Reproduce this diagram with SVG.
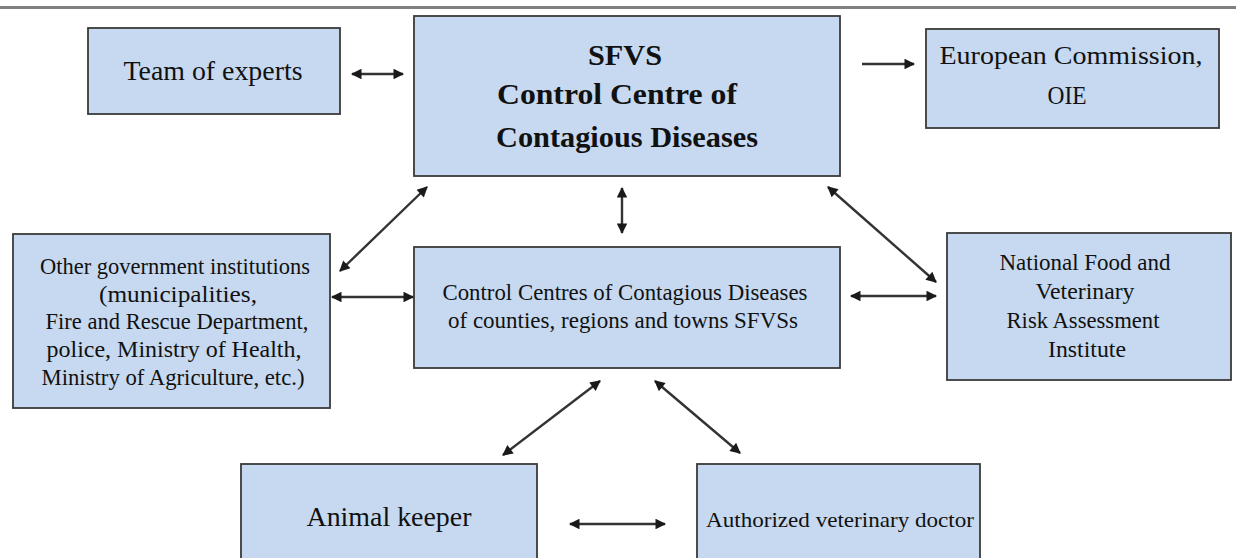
<svg xmlns="http://www.w3.org/2000/svg" width="1236" height="558" viewBox="0 0 1236 558">
<style>
.box{fill:#c6d9f0;stroke:#3a3a3a;stroke-width:1.8}
.t{font-family:"Liberation Serif","Times New Roman",serif;fill:#111;text-anchor:middle}
.b{font-weight:bold}
.c{stroke:#333;stroke-width:2.4;fill:none}
</style>
<defs>
<marker id="ah" viewBox="0 0 10 10" refX="9" refY="5" markerUnits="strokeWidth" markerWidth="5" markerHeight="4.4" orient="auto-start-reverse">
<path d="M0,0 L10,5 L0,10 z" fill="#1a1a1a"/>
</marker>
</defs>
<rect x="0" y="6" width="1236" height="3" fill="#808080"/>
<g id="team">
<rect class="box" x="88" y="28" width="252" height="86"/>
<text class="t" x="213" y="80" font-size="27" textLength="179" lengthAdjust="spacingAndGlyphs">Team of experts</text>
</g>
<g id="sfvs">
<rect class="box" x="414" y="16" width="426" height="160"/>
<text class="t b" x="625" y="65" font-size="30" textLength="74" lengthAdjust="spacingAndGlyphs">SFVS</text>
<text class="t b" x="617" y="104" font-size="30" textLength="240" lengthAdjust="spacingAndGlyphs">Control Centre of</text>
<text class="t b" x="627" y="147" font-size="30" textLength="262" lengthAdjust="spacingAndGlyphs">Contagious Diseases</text>
</g>
<g id="ec">
<rect class="box" x="926" y="29" width="293" height="99"/>
<text class="t" x="1071" y="64" font-size="25" textLength="263" lengthAdjust="spacingAndGlyphs">European Commission,</text>
<text class="t" x="1067" y="104" font-size="25" textLength="39" lengthAdjust="spacingAndGlyphs">OIE</text>
</g>
<g id="other">
<rect class="box" x="13" y="234" width="317" height="174"/>
<text class="t" x="175" y="274" font-size="24" textLength="270" lengthAdjust="spacingAndGlyphs">Other government institutions</text>
<text class="t" x="178" y="302" font-size="24" textLength="158" lengthAdjust="spacingAndGlyphs">(municipalities,</text>
<text class="t" x="177" y="329" font-size="24" textLength="263" lengthAdjust="spacingAndGlyphs">Fire and Rescue Department,</text>
<text class="t" x="174" y="357" font-size="24" textLength="255" lengthAdjust="spacingAndGlyphs">police, Ministry of Health,</text>
<text class="t" x="173" y="385" font-size="24" textLength="263" lengthAdjust="spacingAndGlyphs">Ministry of Agriculture, etc.)</text>
</g>
<g id="centres">
<rect class="box" x="414" y="247" width="426" height="121"/>
<text class="t" x="625" y="300" font-size="23" textLength="365" lengthAdjust="spacingAndGlyphs">Control Centres of Contagious Diseases</text>
<text class="t" x="623" y="328" font-size="23" textLength="350" lengthAdjust="spacingAndGlyphs">of counties, regions and towns SFVSs</text>
</g>
<g id="institute">
<rect class="box" x="947" y="233" width="284" height="147"/>
<text class="t" x="1085" y="270" font-size="23" textLength="171" lengthAdjust="spacingAndGlyphs">National Food and</text>
<text class="t" x="1085" y="299" font-size="23" textLength="99" lengthAdjust="spacingAndGlyphs">Veterinary</text>
<text class="t" x="1083" y="328" font-size="23" textLength="153" lengthAdjust="spacingAndGlyphs">Risk Assessment</text>
<text class="t" x="1087" y="357" font-size="23" textLength="78" lengthAdjust="spacingAndGlyphs">Institute</text>
</g>
<g id="keeper">
<rect class="box" x="241" y="464" width="296" height="100"/>
<text class="t" x="389" y="526" font-size="27" textLength="165" lengthAdjust="spacingAndGlyphs">Animal keeper</text>
</g>
<g id="doctor">
<rect class="box" x="697" y="464" width="283" height="100"/>
<text class="t" x="840" y="527" font-size="22" textLength="268" lengthAdjust="spacingAndGlyphs">Authorized veterinary doctor</text>
</g>
<g id="connectors">
<line class="c" x1="352" y1="74" x2="403" y2="74" marker-start="url(#ah)" marker-end="url(#ah)"/>
<line class="c" x1="862" y1="64" x2="914" y2="64" marker-end="url(#ah)"/>
<line class="c" x1="427" y1="187" x2="340" y2="271" marker-start="url(#ah)" marker-end="url(#ah)"/>
<line class="c" x1="622" y1="188" x2="622" y2="233" marker-start="url(#ah)" marker-end="url(#ah)"/>
<line class="c" x1="828" y1="187" x2="936" y2="282" marker-start="url(#ah)" marker-end="url(#ah)"/>
<line class="c" x1="332" y1="297" x2="413" y2="297" marker-start="url(#ah)" marker-end="url(#ah)"/>
<line class="c" x1="851" y1="296" x2="936" y2="296" marker-start="url(#ah)" marker-end="url(#ah)"/>
<line class="c" x1="600" y1="381" x2="503" y2="455" marker-start="url(#ah)" marker-end="url(#ah)"/>
<line class="c" x1="655" y1="381" x2="740" y2="453" marker-start="url(#ah)" marker-end="url(#ah)"/>
<line class="c" x1="570" y1="524" x2="665" y2="524" marker-start="url(#ah)" marker-end="url(#ah)"/>
</g>
</svg>
